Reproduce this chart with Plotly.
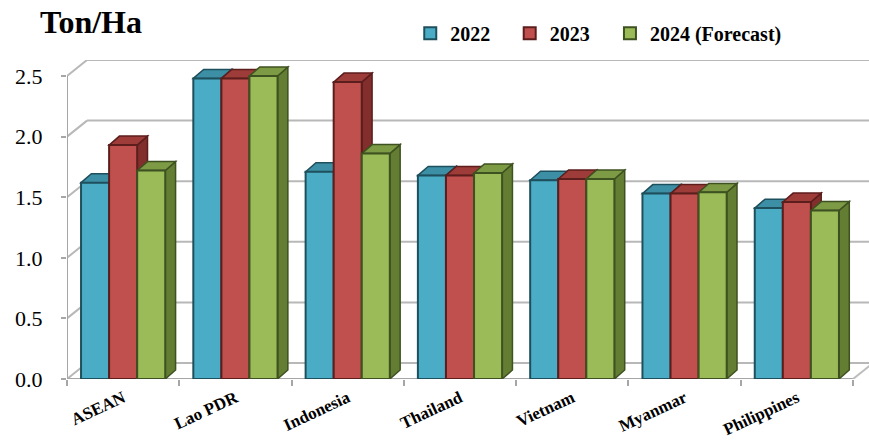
import plotly.graph_objects as go

# Rice yield by country (Ton/Ha)
categories = ["ASEAN", "Lao PDR", "Indonesia", "Thailand", "Vietnam", "Myanmar", "Philippines"]
series_names = ["2022", "2023", "2024 (Forecast)"]
yield_2022 = [1.62, 2.48, 1.71, 1.68, 1.64, 1.53, 1.41]
yield_2023 = [1.93, 2.48, 2.45, 1.68, 1.65, 1.53, 1.46]
yield_2024 = [1.72, 2.50, 1.86, 1.70, 1.65, 1.54, 1.39]
y_ticks = [0.0, 0.5, 1.0, 1.5, 2.0, 2.5]

series_values = [yield_2022, yield_2023, yield_2024]
front_colors = ["#4BACC6", "#C0504D", "#9BBB59"]
top_colors = ["#3C8FA5", "#9E3C39", "#7D9A44"]
side_colors = ["#2F778A", "#812E2C", "#637D33"]
edge_colors = ["#1E4F5C", "#5C1E1D", "#3E5120"]

# geometry of the pseudo-3D frame (axis units)
n_cat = len(categories)
bargap = 0.25
bar_w = (1 - bargap) / 3
bar_dx, bar_dy = 0.092, 0.074      # depth of a column
wall_dx, wall_dy = 0.178, 0.132    # depth of floor / back wall
x_lo = -0.5
x_hi = n_cat - 0.5 + 0.1425
y_top = y_ticks[-1] + wall_dy

serif = "Liberation Serif"
legend_ids = ["legend", "legend2", "legend3"]
legend_x = [0.428, 0.552, 0.677]   # one legend box per series, side by side

fig = go.Figure()
x_idx = list(range(n_cat))

for k, (name, vals) in enumerate(zip(series_names, series_values)):
    fig.add_trace(go.Bar(
        x=x_idx, y=vals, name=name, legend=legend_ids[k], showlegend=True,
        marker=dict(color=front_colors[k], line=dict(color=edge_colors[k], width=2)),
        hovertemplate="%{text}: %{y:.2f}<extra>" + name + "</extra>",
        text=categories, textposition="none",
    ))

shapes = []
grid_col = "#B8B8B8"

# back-wall gridlines and their diagonals on the side wall
for t in y_ticks:
    shapes.append(dict(type="line", xref="x", yref="y", layer="below",
                       x0=x_lo + wall_dx, x1=x_hi, y0=t + wall_dy, y1=t + wall_dy,
                       line=dict(color=grid_col, width=2)))
    shapes.append(dict(type="line", xref="x", yref="y", layer="below",
                       x0=x_lo, x1=x_lo + wall_dx, y0=t, y1=t + wall_dy,
                       line=dict(color=grid_col, width=2)))
# left value axis line
shapes.append(dict(type="line", xref="x", yref="y", layer="below",
                   x0=x_lo, x1=x_lo, y0=0, y1=y_ticks[-1],
                   line=dict(color="#A6A6A6", width=2)))
# front edge of the floor and its right-hand depth edge
shapes.append(dict(type="line", xref="x", yref="y", layer="below",
                   x0=x_lo, x1=n_cat - 0.5, y0=0, y1=0,
                   line=dict(color="#A6A6A6", width=2)))
shapes.append(dict(type="line", xref="x", yref="y", layer="below",
                   x0=n_cat - 0.5, x1=n_cat - 0.5 + wall_dx, y0=0, y1=wall_dy,
                   line=dict(color="#BDBDBD", width=2)))

# top and side faces of each column, drawn beneath the front faces
for k, vals in enumerate(series_values):
    for i, v in enumerate(vals):
        left = i - (1 - bargap) / 2 + k * bar_w
        right = left + bar_w
        side = (f"M{right},0 L{right + bar_dx},{bar_dy} "
                f"L{right + bar_dx},{v + bar_dy} L{right},{v} Z")
        top = (f"M{left},{v} L{left + bar_dx},{v + bar_dy} "
               f"L{right + bar_dx},{v + bar_dy} L{right},{v} Z")
        shapes.append(dict(type="path", path=side, xref="x", yref="y", layer="below",
                           fillcolor=side_colors[k], line=dict(color=edge_colors[k], width=1.5)))
        shapes.append(dict(type="path", path=top, xref="x", yref="y", layer="below",
                           fillcolor=top_colors[k], line=dict(color=edge_colors[k], width=1.5)))

legend_style = dict(orientation="h", xanchor="left", y=1.145, yanchor="top",
                    font=dict(family=serif, size=20, color="black", weight="bold"),
                    itemwidth=30, bgcolor="rgba(0,0,0,0)", visible=True)

fig.update_layout(
    width=869, height=441,
    margin=dict(l=67, r=0, t=60, b=62),
    paper_bgcolor="white", plot_bgcolor="white",
    barmode="group", bargap=bargap, bargroupgap=0,
    shapes=shapes,
    showlegend=True,
    font=dict(family=serif, color="black"),
    title=dict(text="Ton/Ha", xref="container", yref="container",
               x=40 / 869, xanchor="left", y=1 - 22 / 441, yanchor="middle",
               font=dict(family=serif, size=32, color="black", weight="bold")),
    legend=dict(x=legend_x[0], **legend_style),
    legend2=dict(x=legend_x[1], **legend_style),
    legend3=dict(x=legend_x[2], **legend_style),
    xaxis=dict(range=[x_lo, x_hi], tickmode="array", tickvals=x_idx, ticktext=categories,
               tickangle=-25, ticks="", ticklabelstandoff=5, automargin=False,
               showgrid=False, zeroline=False, showline=False,
               tickfont=dict(family=serif, size=17, color="black", weight="bold"),
               minor=dict(tickmode="array", tickvals=[i - 0.5 for i in range(n_cat + 1)],
                          ticks="outside", ticklen=6, tickwidth=2, tickcolor="#A6A6A6",
                          showgrid=False)),
    yaxis=dict(range=[0, y_top], tickmode="array", tickvals=y_ticks,
               ticktext=[f"{t:.1f}" for t in y_ticks],
               ticks="outside", ticklen=5, tickwidth=2, tickcolor="#A6A6A6",
               ticklabelstandoff=14, automargin=False,
               showgrid=False, zeroline=False, showline=False,
               tickfont=dict(family=serif, size=22, color="black", weight="normal")),
)

fig.write_html("out.html")
